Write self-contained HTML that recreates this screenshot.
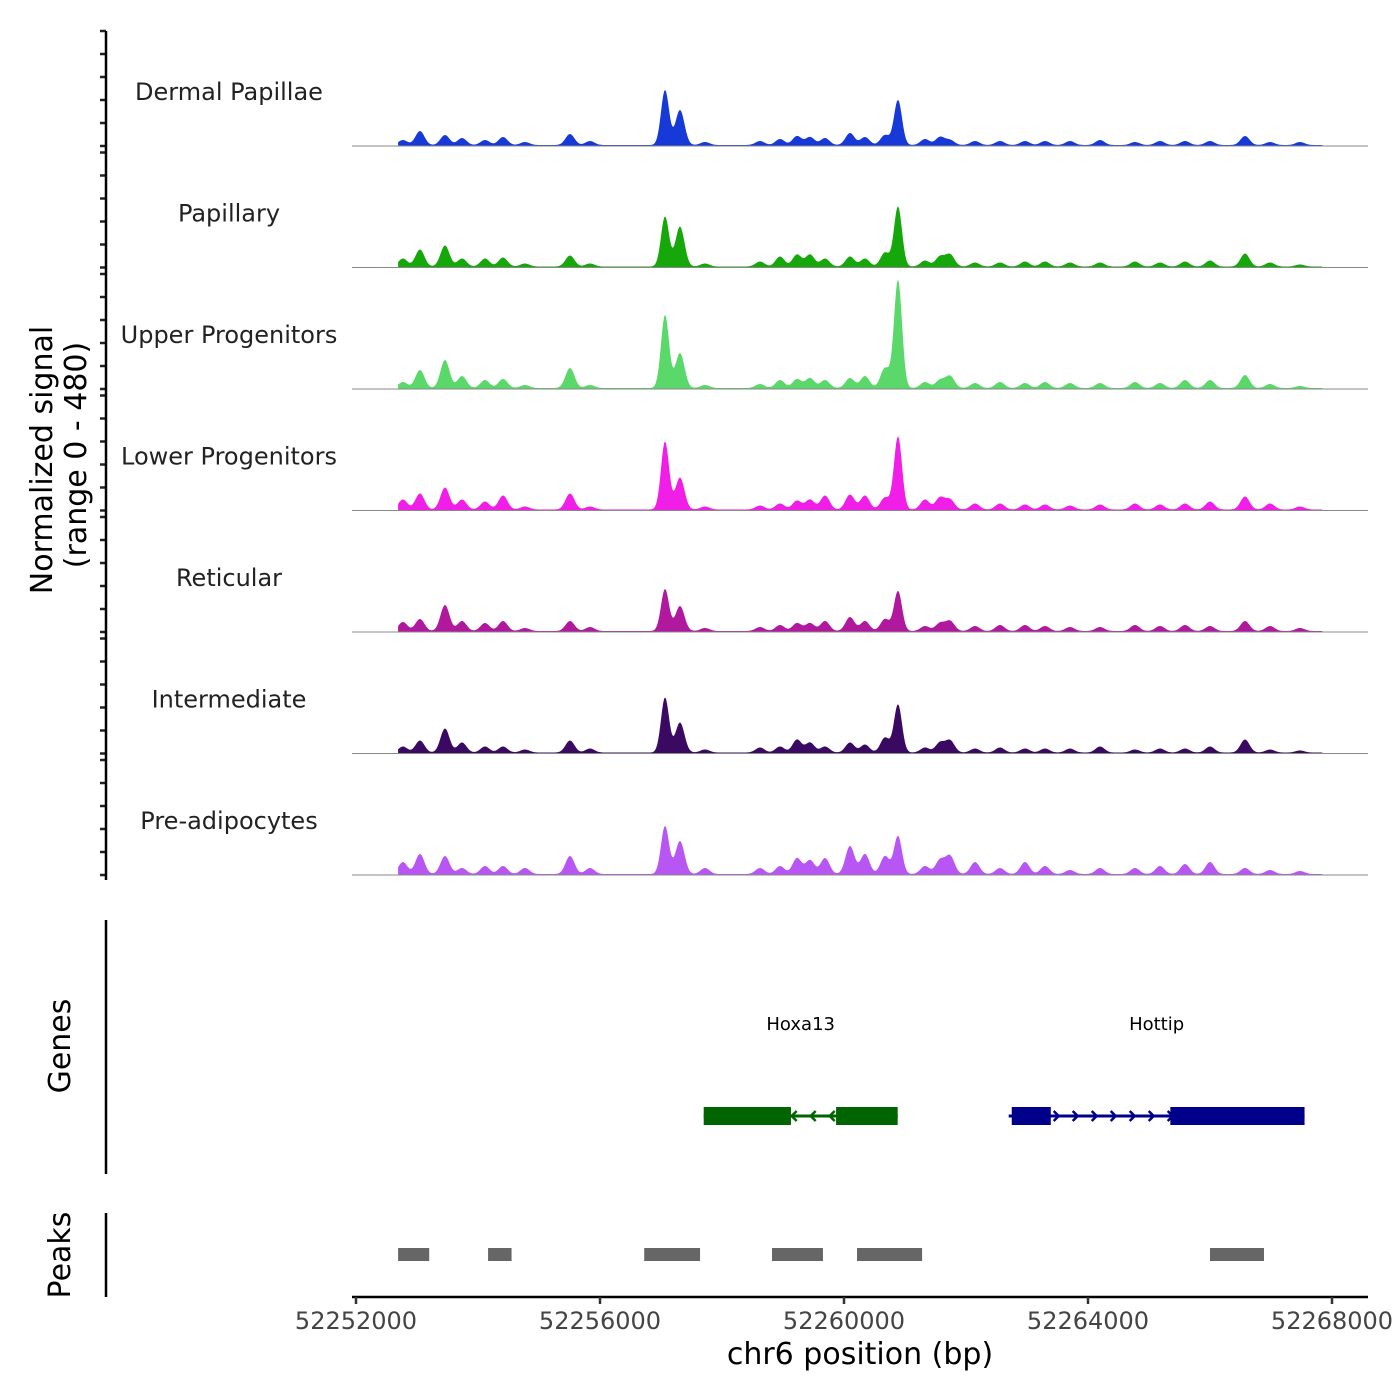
<!DOCTYPE html>
<html><head><meta charset="utf-8"><style>
html,body{margin:0;padding:0;background:#fff;}
svg{display:block;font-family:"DejaVu Sans","Liberation Sans",sans-serif;}
</style></head><body>
<svg id="chart" width="1400" height="1400" viewBox="0 0 1400 1400">
<g id="tracks"></g>
<g id="yaxis"></g>
<text x="52" y="460" font-size="30" text-anchor="middle" transform="rotate(-90 52 460)">Normalized signal</text>
<text x="86" y="455" font-size="30" text-anchor="middle" transform="rotate(-90 86 455)">(range 0 - 480)</text>
<line x1="106" y1="920" x2="106" y2="1174" stroke="#000" stroke-width="2.5"/>
<text x="70" y="1046" font-size="30" text-anchor="middle" transform="rotate(-90 70 1046)">Genes</text>
<g id="genes"></g>
<line x1="106" y1="1213" x2="106" y2="1297" stroke="#000" stroke-width="2.5"/>
<text x="70" y="1255" font-size="30" text-anchor="middle" transform="rotate(-90 70 1255)">Peaks</text>
<g id="peaks"></g>
<g id="xaxis"></g>
<text x="860" y="1364" font-size="30" text-anchor="middle">chr6 position (bp)</text>
</svg>
<script>
const trackNames=["Dermal Papillae","Papillary","Upper Progenitors","Lower Progenitors","Reticular","Intermediate","Pre-adipocytes"];
const trackColors=["#1639d8","#16a80a","#5ad86a","#f01ee6","#b0189e","#3a0a62","#b856f4"];
const peakPos=[52252769,52253048,52253459,52253738,52254115,52254410,52254770,52255508,52255836,52257066,52257311,52257721,52258623,52258951,52259230,52259443,52259689,52260098,52260344,52260672,52260885,52261328,52261574,52261738,52262148,52262557,52262967,52263295,52263705,52264197,52264770,52265180,52265590,52266000,52266574,52266984,52267475];
const sigDP=[5,14,10,7,5,8,3,11,4,55,35,3,4,6,9,8,7,12,8,10,45,6,8,5,4,4,4,4,4,5,3,4,4,4,9,3,3];
const sigPap=[8,17,21,8,8,9,3,11,3,50,40,3,5,10,12,12,8,10,8,14,60,6,10,12,4,4,5,5,4,4,5,4,5,6,13,4,2];
const sigUP=[6,18,28,12,8,9,3,20,3,73,35,3,4,8,9,10,8,10,12,20,108,6,8,12,5,6,5,6,5,5,6,5,8,8,13,4,2];
const sigLP=[10,16,22,10,8,14,3,16,3,68,32,3,4,6,9,10,14,15,14,12,73,10,12,10,6,6,5,5,4,5,6,5,6,8,13,6,3];
const sigRet=[9,12,26,10,8,10,3,10,4,42,25,3,4,6,8,8,10,14,10,12,40,5,8,10,5,6,6,5,4,4,6,5,6,5,10,5,3];
const sigInt=[6,12,24,10,6,6,3,12,4,55,30,3,5,6,13,10,6,10,8,15,48,5,10,12,4,5,4,4,4,6,3,4,4,6,13,3,2];
const sigPre=[12,20,18,6,8,8,6,18,6,48,33,6,6,8,16,14,16,28,20,18,38,8,14,18,12,6,12,8,4,6,6,8,10,12,6,4,3];
const signals=[sigDP,sigPap,sigUP,sigLP,sigRet,sigInt,sigPre];
const xTicks=[52252000,52256000,52260000,52264000,52268000];
const genes=[{name:"Hoxa13",start:52257700,end:52260880,strand:-1,exons:[[52257700,52259130],[52259870,52260880]],color:"#006400"},
             {name:"Hottip",start:52262700,end:52267550,strand:1,exons:[[52262750,52263390],[52265350,52267550]],color:"#00008b"}];
const peakStarts=[52252690,52254165,52256725,52258820,52260213,52266000];
const peakEnds=[52253200,52254550,52257640,52259655,52261280,52266885];

const NS="http://www.w3.org/2000/svg";
const X0=356, BP0=52252000, PXBP=244/4000;
const xs=bp=>X0+(bp-BP0)*PXBP;
const TRACK_H=121.5, TOP0=31, PLOT_H=115, YMAX=115;
const dataStart=52252690, dataEnd=52267850;
function mk(tag,attrs,parent){const e=document.createElementNS(NS,tag);for(const k in attrs)e.setAttribute(k,attrs[k]);parent.appendChild(e);return e;}
const gT=document.getElementById('tracks'), gY=document.getElementById('yaxis');
signals.forEach((vals,i)=>{
  const top=TOP0+i*TRACK_H, base=top+PLOT_H;
  const ys=v=>base-v/YMAX*PLOT_H;
  let d=`M${xs(dataStart)},${base}`;
  for(let px=xs(dataStart);px<=xs(dataEnd);px+=1){
    let v=1;
    peakPos.forEach((p,j)=>{const dx=px-xs(p);const w=j===9||j===20?4:4.5;v+=vals[j]*Math.exp(-dx*dx/(2*w*w));});
    d+=`L${px},${ys(v)}`;
  }
  d+=`L${xs(dataEnd)},${base}Z`;
  const path=mk('path',{d:d,fill:trackColors[i]},gT);
  
  
  const bl=mk('line',{x1:352,x2:1368,y1:base,y2:base,stroke:'#888','stroke-width':1},gT);
  
  
  const lab=mk('text',{x:229,y:top+69,'font-size':24,'text-anchor':'middle',fill:'#222'},gT);
  lab.textContent=trackNames[i];
  
  
  for(let k=0;k<=5;k++){
    const ty=base-k*PLOT_H/5;
    const t=mk('line',{x1:100,x2:106,y1:ty,y2:ty,stroke:'#222','stroke-width':2.5},gY);
    
    
  }
});
const ax=mk('line',{x1:106,x2:106,y1:31,y2:880,stroke:'#000','stroke-width':2.5},gY);



const gG=document.getElementById('genes');
genes.forEach(g=>{
  const y=1116;
  const ln=mk('line',{x1:xs(g.start),x2:xs(g.end),y1:y,y2:y,stroke:g.color,'stroke-width':3},gG);
  
  
  for(let p=xs(g.start)+12;p<xs(g.end)-5;p+=19){
    const s=g.strand*5;
    const ch=mk('path',{d:`M${p-s},${y-5}L${p},${y}L${p-s},${y+5}`,stroke:g.color,fill:'none','stroke-width':2.5},gG);
    
    
  }
  g.exons.forEach(e=>{
    const r=mk('rect',{x:xs(e[0]),y:y-9,width:xs(e[1])-xs(e[0]),height:18,fill:g.color},gG);
    
    
  });
  const t=mk('text',{x:(xs(g.start)+xs(g.end))/2,y:1030,'font-size':18,'text-anchor':'middle'},gG);
  t.textContent=g.name;
  
  
});
const gP=document.getElementById('peaks');
peakStarts.forEach((s,i)=>{
  const r=mk('rect',{x:xs(s),y:1248,width:xs(peakEnds[i])-xs(s),height:13,fill:'#666'},gP);
  
  
});
const gX=document.getElementById('xaxis');
const xl=mk('line',{x1:352,x2:1368,y1:1297,y2:1297,stroke:'#000','stroke-width':2.5},gX);


xTicks.forEach(v=>{
  const t=mk('line',{x1:xs(v),x2:xs(v),y1:1297,y2:1304,stroke:'#333','stroke-width':2.5},gX);
  
  
  const l=mk('text',{x:xs(v),y:1329,'font-size':24,'text-anchor':'middle',fill:'#444'},gX);
  l.textContent=String(v);
  
  
});
</script>
</body></html>
